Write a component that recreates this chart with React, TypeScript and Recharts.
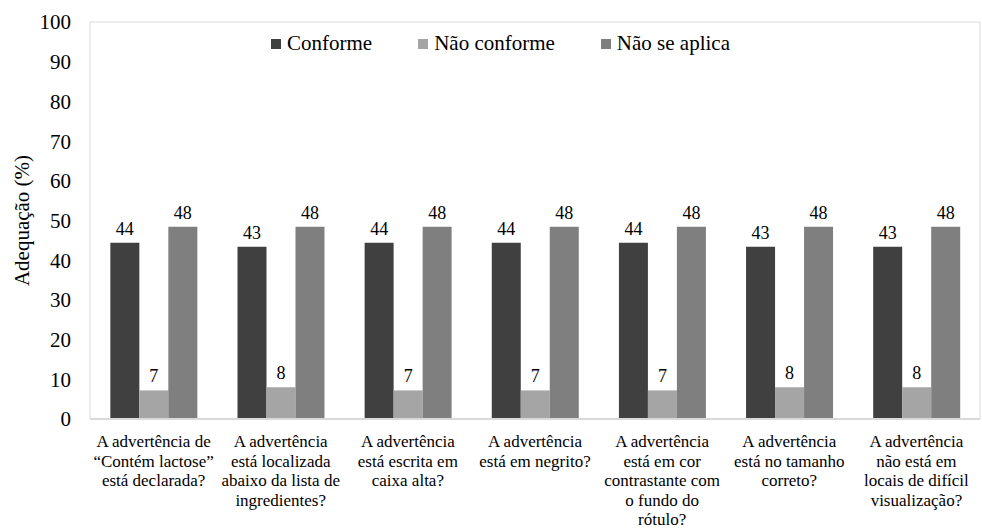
import { BarChart, Bar, XAxis, YAxis, Legend, LabelList, ReferenceArea } from "recharts";

const FONT = '"Liberation Serif", serif';

const categories = [
  ["A advertência de", "“Contém lactose”", "está declarada?"],
  ["A advertência", "está localizada", "abaixo da lista de", "ingredientes?"],
  ["A advertência", "está escrita em", "caixa alta?"],
  ["A advertência", "está em negrito?"],
  ["A advertência", "está em cor", "contrastante com", "o fundo do", "rótulo?"],
  ["A advertência", "está no tamanho", "correto?"],
  ["A advertência", "não está em", "locais de difícil", "visualização?"],
];

const conforme = [44.4, 43.4, 44.4, 44.4, 44.4, 43.4, 43.4];
const naoConforme = [7.2, 8.0, 7.2, 7.2, 7.2, 8.0, 8.0];
const naoSeAplica = [48.4, 48.4, 48.4, 48.4, 48.4, 48.4, 48.4];

const yTicks = [0, 10, 20, 30, 40, 50, 60, 70, 80, 90, 100];

const series = [
  { key: "conforme", name: "Conforme", color: "#404040" },
  { key: "naoConforme", name: "Não conforme", color: "#a5a5a5" },
  { key: "naoSeAplica", name: "Não se aplica", color: "#7f7f7f" },
];

const data = categories.map((lines, i) => ({
  name: lines.join(" "),
  conforme: conforme[i],
  naoConforme: naoConforme[i],
  naoSeAplica: naoSeAplica[i],
}));

const CategoryTick = (props: any) => {
  const { x, y, index } = props;
  const lines = categories[index] || [];
  return (
    <text x={x} y={y} textAnchor="middle" fontFamily={FONT} fontSize={17} fill="#000">
      {lines.map((line, i) => (
        <tspan key={i} x={x} dy={i === 0 ? 28 : 19.5}>
          {line}
        </tspan>
      ))}
    </text>
  );
};

const renderLegend = () => (
  <div style={{ display: "flex", alignItems: "center", fontFamily: FONT, fontSize: 21, color: "#000", whiteSpace: "nowrap" }}>
    {series.map((s, i) => (
      <div key={s.key} style={{ display: "flex", alignItems: "center", marginRight: i < series.length - 1 ? 46 : 0 }}>
        <span style={{ width: 10, height: 10, background: s.color, marginRight: 6, display: "inline-block" }} />
        <span>{s.name}</span>
      </div>
    ))}
  </div>
);

const YTitle = (props: any) => {
  const { viewBox } = props;
  const cx = 22;
  const cy = viewBox.y + viewBox.height / 2;
  return (
    <text
      x={cx}
      y={cy}
      transform={`rotate(-90, ${cx}, ${cy})`}
      textAnchor="middle"
      dominantBaseline="central"
      fontFamily={FONT}
      fontSize={21}
      fill="#000"
    >
      Adequação (%)
    </text>
  );
};

export default function App() {
  return (
    <div style={{ position: "absolute", left: 0, top: 0, background: "#fff", fontFamily: FONT }}>
      <BarChart
        width={982}
        height={528}
        data={data}
        margin={{ top: 22, right: 2, bottom: 0, left: 0 }}
        barCategoryGap="16%"
        barGap={0}
      >
        {/* light frame around the plot area */}
        <ReferenceArea y1={0} y2={100} fill="none" stroke="#d9d9d9" ifOverflow="visible" />
        <XAxis
          dataKey="name"
          interval={0}
          height={109}
          tickLine={false}
          tickSize={0}
          tickMargin={0}
          axisLine={{ stroke: "#d9d9d9", strokeWidth: 2 }}
          tick={<CategoryTick />}
        />
        <YAxis
          width={90}
          domain={[0, 100]}
          ticks={yTicks}
          interval={0}
          axisLine={false}
          tickLine={false}
          tickSize={0}
          tickMargin={19}
          tick={{ fontSize: 21, fill: "#000", fontFamily: FONT }}
          label={<YTitle />}
        />
        <Legend
          layout="horizontal"
          verticalAlign="middle"
          content={renderLegend}
          wrapperStyle={{ top: 31, left: 271, width: "auto" }}
        />
        {series.map((s) => (
          <Bar key={s.key} dataKey={s.key} name={s.name} fill={s.color} isAnimationActive={false}>
            <LabelList
              dataKey={s.key}
              position="top"
              offset={8}
              formatter={(v: any) => Math.round(Number(v))}
              fontFamily={FONT}
              fontSize={18}
              fill="#000"
            />
          </Bar>
        ))}
      </BarChart>
    </div>
  );
}
